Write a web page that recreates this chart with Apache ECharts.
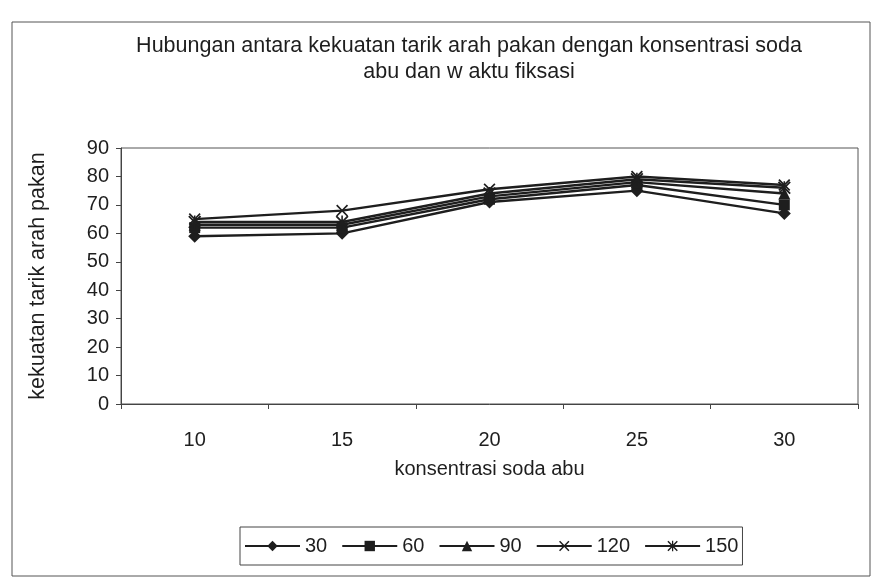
<!DOCTYPE html>
<html>
<head>
<meta charset="utf-8">
<script src="https://cdn.jsdelivr.net/npm/echarts@6/dist/echarts.min.js"></script>
<style>
  html, body { margin: 0; padding: 0; background: #fff; }
  #chart { width: 878px; height: 582px; }
</style>
</head>
<body>
<div id="chart"></div>
<script>
// --- Data ---
const categories = ["10", "15", "20", "25", "30"];
const seriesNames = ["30", "60", "90", "120", "150"];
const s30 = [59, 60, 71, 75, 67];
const s60 = [62, 62, 72, 77, 70];
const s90 = [63, 63, 73, 78, 74];
const s120 = [65, 68, 75.5, 80, 77];
const s150 = [64, 64, 74, 79, 76];
const yTicks = { min: 0, max: 90, interval: 10 };

// --- Marker shapes ---
const crossPath = "path://M1,0 L5,4 L9,0 L10,1 L6,5 L10,9 L9,10 L5,6 L1,10 L0,9 L4,5 L0,1 Z";
const starPath = "path://M1,0 L5,4 L9,0 L10,1 L6,5 L10,9 L9,10 L5,6 L1,10 L0,9 L4,5 L0,1 Z M4.4,0 L5.6,0 L5.6,10 L4.4,10 Z";
const symbols = ["diamond", "rect", "triangle", crossPath, starPath];
const sizes = [13, 11, 12, 12, 13];
const values = [s30, s60, s90, s120, s150];

const ink = "#1e1e1e";
const font = "'Liberation Sans', Arial, sans-serif";

const chart = echarts.init(document.getElementById("chart"), null, { renderer: "canvas" });

const series = seriesNames.map((name, i) => ({
  name,
  type: "line",
  data: values[i],
  symbol: symbols[i],
  symbolSize: sizes[i],
  showAllSymbol: true,
  lineStyle: { color: ink, width: 2.4 },
  itemStyle: { color: ink },
  animation: false,
}));

chart.setOption({
  backgroundColor: "#fff",
  textStyle: { fontFamily: font, color: ink },
  title: {
    text: "Hubungan antara kekuatan tarik arah pakan dengan konsentrasi soda\nabu dan w aktu fiksasi",
    left: 464,
    top: 28,
    textAlign: "center",
    textStyle: { fontFamily: font, fontSize: 21.5, fontWeight: "normal", color: ink, lineHeight: 26 },
  },
  graphic: [
    {
      type: "rect",
      shape: { x: 12, y: 22, width: 858, height: 554 },
      style: { fill: "none", stroke: "#555", lineWidth: 1 },
      silent: true,
    },
  ],
  grid: { left: 121, right: 20, top: 148, bottom: 178, show: true, borderColor: "#555", borderWidth: 1 },
  legend: {
    left: 240,
    top: 527,
    data: seriesNames,
    itemWidth: 55,
    itemHeight: 13,
    itemGap: 14,
    padding: [9, 4, 9, 4],
    borderColor: "#444",
    borderWidth: 1,
    textStyle: { fontFamily: font, fontSize: 20, color: ink },
  },
  xAxis: {
    type: "category",
    data: categories,
    boundaryGap: true,
    name: "konsentrasi soda abu",
    nameLocation: "middle",
    nameGap: 55,
    nameTextStyle: { fontFamily: font, fontSize: 20, color: ink },
    axisLine: { lineStyle: { color: "#444", width: 1 } },
    axisTick: { show: true, length: 5, lineStyle: { color: "#444" } },
    axisLabel: { fontFamily: font, fontSize: 20, color: ink, margin: 26 },
    splitLine: { show: false },
  },
  yAxis: {
    type: "value",
    min: yTicks.min,
    max: yTicks.max,
    interval: yTicks.interval,
    name: "kekuatan tarik arah pakan",
    nameLocation: "middle",
    nameGap: 72,
    nameTextStyle: { fontFamily: font, fontSize: 21.5, color: ink },
    axisLine: { show: true, lineStyle: { color: "#444", width: 1 } },
    axisTick: { show: true, length: 5, lineStyle: { color: "#444" } },
    axisLabel: { fontFamily: font, fontSize: 20, color: ink, margin: 12 },
    splitLine: { show: false },
  },
  series,
});
</script>
</body>
</html>
